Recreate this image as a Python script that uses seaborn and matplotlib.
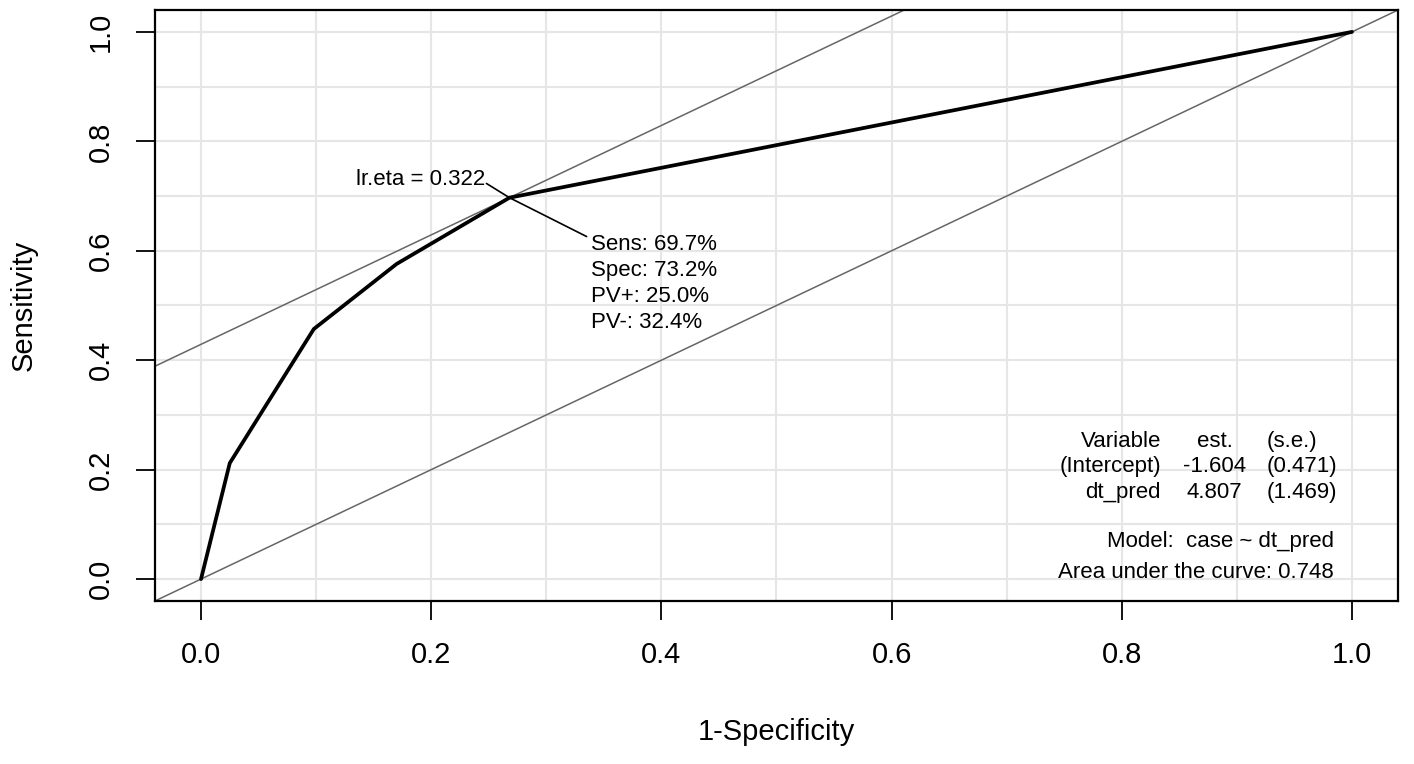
import pandas as pd
import matplotlib
matplotlib.use("Agg")
import matplotlib.pyplot as plt
import seaborn as sns

# ROC curve points (1-Specificity, Sensitivity)
fpr = [0.0, 0.025, 0.098, 0.170, 0.268, 1.0]
sens = [0.0, 0.212, 0.457, 0.576, 0.697, 1.0]

opt_label = "lr.eta = 0.322"
opt_stats = ["Sens: 69.7%", "Spec: 73.2%", "PV+: 25.0%", "PV-: 32.4%"]

tab_var = ["Variable", "(Intercept)", "dt_pred"]
tab_est = ["est.", "-1.604", "4.807"]
tab_se = ["(s.e.)", "(0.471)", "(1.469)"]
model_txt = "Model:  case ~ dt_pred"
auc_txt = "Area under the curve: 0.748"

ticks = [0.0, 0.2, 0.4, 0.6, 0.8, 1.0]
grid_pos = [i / 10 for i in range(11)]


def main():
    sns.set_style("white")
    plt.rcParams["font.family"] = ["Liberation Sans", "DejaVu Sans"]
    plt.rcParams["text.color"] = "black"
    plt.rcParams["axes.labelcolor"] = "black"
    plt.rcParams["xtick.color"] = "black"
    plt.rcParams["ytick.color"] = "black"

    fig = plt.figure(figsize=(14.14, 7.64), dpi=100)
    ax = fig.add_axes([0.1096, 0.2134, 0.8791, 0.7735])
    ax.set_xlim(-0.04, 1.04)
    ax.set_ylim(-0.04, 1.04)

    for g in grid_pos:
        ax.axvline(g, color="#e6e6e6", lw=1.5, zorder=0)
        ax.axhline(g, color="#e6e6e6", lw=1.5, zorder=0)

    # reference lines: diagonal and Youden tangent
    ax.axline((0, 0), slope=1, color="#666666", lw=1.1, zorder=1)
    px, py = fpr[4], sens[4]
    ax.axline((px, py), slope=1, color="#666666", lw=1.1, zorder=1)

    df = pd.DataFrame({"fpr": fpr, "sens": sens})
    sns.lineplot(data=df, x="fpr", y="sens", sort=False, color="black",
                 lw=2.7, ax=ax, zorder=3)

    # optimal point annotation
    ax.plot([px - 0.020, px, px + 0.067], [py + 0.026, py, py - 0.071],
            color="black", lw=1.2, zorder=4)
    ax.text(px - 0.021, py + 0.033, opt_label, ha="right", va="center",
            fontsize=16)
    for i, s in enumerate(opt_stats):
        ax.text(px + 0.071, py - 0.085 - i * 0.0475, s, ha="left",
                va="center", fontsize=16)

    # model table
    rows_y = [0.251, 0.205, 0.159]
    for i in range(3):
        ax.text(0.834, rows_y[i], tab_var[i], ha="right", va="center", fontsize=16)
        ax.text(0.8805, rows_y[i], tab_est[i], ha="center", va="center", fontsize=16)
        ax.text(0.9255, rows_y[i], tab_se[i], ha="left", va="center", fontsize=16)
    ax.text(0.9844, 0.0678, model_txt, ha="right", va="center", fontsize=16)
    ax.text(0.9844, 0.0128, auc_txt, ha="right", va="center", fontsize=16)

    ax.set_xticks(ticks)
    ax.set_yticks(ticks)
    ax.set_xticklabels([f"{t:.1f}" for t in ticks], fontsize=21)
    ax.set_yticklabels([f"{t:.1f}" for t in ticks], fontsize=21,
                       rotation=90, va="center")
    ax.tick_params(axis="both", direction="out", length=14, width=1.3,
                   color="black", pad=15, bottom=True, left=True)
    for sp in ax.spines.values():
        sp.set_color("black")
        sp.set_linewidth(1.6)

    ax.set_xlabel("1-Specificity", fontsize=21, labelpad=35)
    ax.set_ylabel("Sensitivity", fontsize=21, labelpad=35)

    fig.savefig("out.png", dpi=100)
    plt.close(fig)


if __name__ == "__main__":
    main()
